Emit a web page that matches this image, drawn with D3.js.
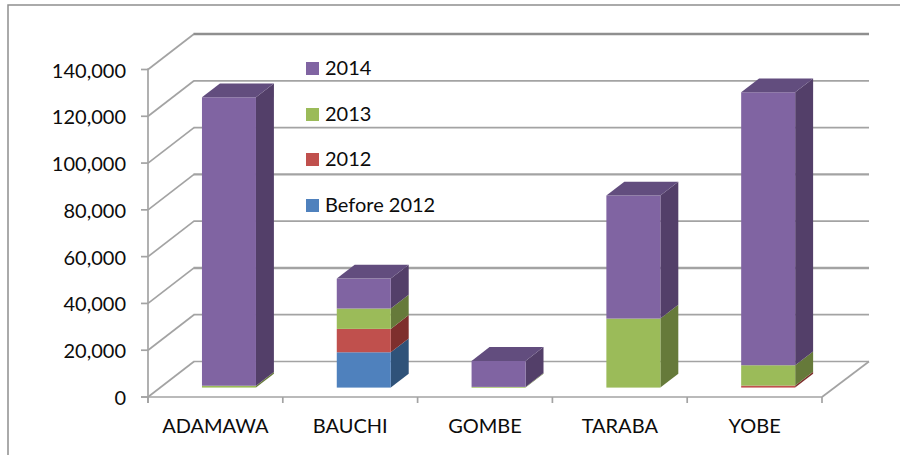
<!DOCTYPE html>
<html><head><meta charset="utf-8">
<style>html,body{margin:0;padding:0;background:#fff}svg{display:block}text{font-family:Lato,"Open Sans",sans-serif;fill:#0c0c0c}</style>
<script src="https://cdnjs.cloudflare.com/ajax/libs/d3/7.8.5/d3.min.js"></script>
</head><body><div id="c"></div>
<script>
const categories = ["ADAMAWA","BAUCHI","GOMBE","TARABA","YOBE"];
const before2012 = [0,15100,0,0,0];
const y2012 = [0,10000,0,0,850];
const y2013 = [800,8700,300,29500,8700];
const y2014 = [123300,12800,11100,52600,116700];
const seriesNames = ["Before 2012","2012","2013","2014"];
const yTicks = [0,20000,40000,60000,80000,100000,120000,140000];
const thickGrid = [40000,80000,140000];
const colors = ["#4f81bd","#c0504d","#9bbb59","#8064a2"];
const sideColors = ["#2f5279","#7e2f2d","#667a3a","#533f69"];
const topColors = ["#3b6596","#98403d","#7c9546","#624d7e"];

const W=900,H=455;
const svg=d3.select("#c").append("svg").attr("width",W).attr("height",H);
const x=d3.scaleBand().domain(categories).range([148,822]).paddingInner(0).paddingOuter(0);
const y=d3.scaleLinear().domain([0,140000]).range([397,69.5]);
const wallDx=46,wallDy=-35.5;
const grid="#a3a3a3";
const barFront=0.295,barBack=0.685,barW=54;

// frame
svg.append("path").attr("d","M8,455V5H900").attr("fill","none").attr("stroke","#8f8f8f").attr("stroke-width",1.5);

// walls: thin diagonal on the side wall, horizontal on the back wall
yTicks.forEach(v=>{
  const xa=x.range()[0], xb=xa+wallDx, xc=x.range()[1]+wallDx+1, yb=y(v)+wallDy;
  svg.append("line").attr("x1",xa).attr("y1",y(v)).attr("x2",xb).attr("y2",yb)
    .attr("stroke",grid).attr("stroke-width",1.7);
  svg.append("line").attr("x1",xb-0.5).attr("y1",yb).attr("x2",xc).attr("y2",yb)
    .attr("stroke",v===140000?"#8f8f8f":grid).attr("stroke-width",thickGrid.includes(v)?2.4:1.7);
});
// floor right edge
svg.append("path").attr("d",`M${x.range()[1]},${y(0)}L${x.range()[1]+wallDx+1},${y(0)+wallDy}`)
  .attr("fill","none").attr("stroke",grid).attr("stroke-width",1.7);

// bars
const rows=categories.map((c,i)=>({c,s0:before2012[i],s1:y2012[i],s2:y2013[i],s3:y2014[i]}));
const stack=d3.stack().keys(["s0","s1","s2","s3"])(rows);
const g=svg.append("g");
categories.forEach((c,i)=>{
  const x0=x(c)+x.bandwidth()/2-barW/2+wallDx*barFront;
  const x1=x0+barW;
  const ox=wallDx*(barBack-barFront),oy=wallDy*(barBack-barFront);
  const py=v=>y(v)+wallDy*0.265;
  const top=d3.sum(stack,s=>s[i][1]-s[i][0]);
  stack.forEach((s,k)=>{
    const [a,b]=s[i];
    if(b<=a)return;
    g.append("path").attr("d",`M${x1},${py(a)}L${x1+ox},${py(a)+oy}L${x1+ox},${py(b)+oy}L${x1},${py(b)}Z`).attr("fill",sideColors[k]);
    g.append("rect").attr("x",x0).attr("width",barW).attr("y",py(b)).attr("height",Math.max(py(a)-py(b),0.8)).attr("fill",colors[k]);
    if(b===top) g.append("path").attr("d",`M${x0},${py(b)}L${x0+ox},${py(b)+oy}L${x1+ox},${py(b)+oy}L${x1},${py(b)}Z`).attr("fill",topColors[k]);
  });
});

// axes
const ax=svg.append("g");
ax.append("line").attr("x1",148).attr("x2",148).attr("y1",y(140000)-1).attr("y2",y(0)+6).attr("stroke",grid).attr("stroke-width",1.7);
ax.append("line").attr("x1",141).attr("x2",x.range()[1]).attr("y1",y(0)).attr("y2",y(0)).attr("stroke",grid).attr("stroke-width",1.7);
yTicks.forEach(v=>{
  ax.append("line").attr("x1",141).attr("x2",148).attr("y1",y(v)).attr("y2",y(v)).attr("stroke",grid).attr("stroke-width",1.7);
  ax.append("text").attr("x",126).attr("y",y(v)+8).attr("text-anchor","end").attr("font-size",20).text(d3.format(",")(v));
});
const edges=[...categories.map(c=>x(c)),x.range()[1]];
edges.forEach(e=>ax.append("line").attr("x1",e).attr("x2",e).attr("y1",y(0)).attr("y2",y(0)+6).attr("stroke",grid).attr("stroke-width",1.7));
categories.forEach(c=>ax.append("text").attr("x",x(c)+x.bandwidth()/2).attr("y",433).attr("text-anchor","middle").attr("font-size",20).text(c));

// legend
const legendY=[205.5,159.5,114.5,68.5];
seriesNames.forEach((n,k)=>{
  svg.append("rect").attr("x",306).attr("y",legendY[k]-6.5).attr("width",13).attr("height",13).attr("fill",colors[k]);
  svg.append("text").attr("x",325).attr("y",legendY[k]+6.5).attr("font-size",20).text(n);
});
</script></body></html>
